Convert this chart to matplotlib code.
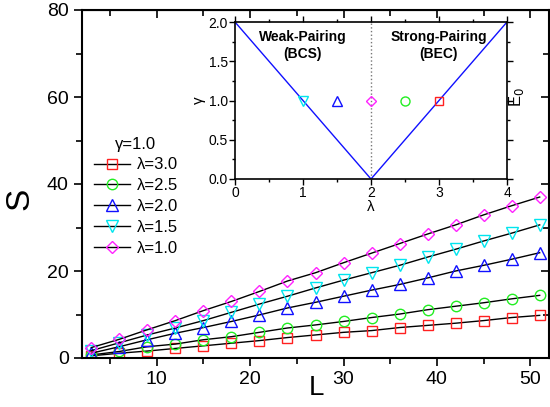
import matplotlib
matplotlib.use("Agg")
import matplotlib.pyplot as plt
from matplotlib.ticker import MultipleLocator

plt.rcParams['font.family'] = ['Liberation Sans', 'DejaVu Sans']

L = [3, 6, 9, 12, 15, 18, 21, 24, 27, 30, 33, 36, 39, 42, 45, 48, 51]
S_lam30 = [0.5, 1.1, 1.6, 2.2, 2.8, 3.4, 4.0, 4.7, 5.3, 5.9, 6.3, 7.0, 7.5, 8.0, 8.6, 9.3, 9.8]
S_lam25 = [0.7, 1.5, 2.6, 3.2, 4.2, 4.9, 5.9, 6.9, 7.6, 8.4, 9.3, 10.1, 11.1, 11.9, 12.7, 13.6, 14.4]
S_lam20 = [1.1, 2.6, 4.2, 5.7, 7.0, 8.4, 9.9, 11.5, 12.8, 14.2, 15.6, 16.9, 18.4, 20.0, 21.3, 22.7, 24.2]
S_lam15 = [1.7, 3.5, 5.3, 6.9, 8.6, 10.5, 12.4, 14.2, 16.1, 17.9, 19.6, 21.3, 23.2, 25.0, 26.9, 28.7, 30.6]
S_lam10 = [2.4, 4.3, 6.5, 8.6, 10.9, 13.0, 15.3, 17.7, 19.6, 21.9, 24.1, 26.3, 28.5, 30.6, 32.9, 35.0, 37.0]

series_labels = ['λ=3.0', 'λ=2.5', 'λ=2.0', 'λ=1.5', 'λ=1.0']
series_data = [S_lam30, S_lam25, S_lam20, S_lam15, S_lam10]
series_colors = ['#ff2020', '#22ee22', '#1010ff', '#00e5ee', '#ff22ff']
series_markers = ['s', 'o', '^', 'v', 'D']

# inset: phase diagram
lam_line = [0, 2, 4]
gam_line = [2, 0, 2]
inset_lam = [1.0, 1.5, 2.0, 2.5, 3.0]
inset_gam = [1.0, 1.0, 1.0, 1.0, 1.0]
inset_colors = ['#00e5ee', '#1010ff', '#ff22ff', '#22ee22', '#ff2020']
inset_markers = ['v', '^', 'D', 'o', 's']

fig = plt.figure(figsize=(5.5, 4.07), dpi=100)
ax = fig.add_axes([82/550, 49/407, 467/550, 348/407])

msizes = {'s': 7, 'o': 7.5, '^': 8, 'v': 8, 'D': 6.5}
for lab, ys, c, m in zip(series_labels, series_data, series_colors, series_markers):
    ax.plot(L, ys, color='black', lw=1.0, marker=m, ms=msizes[m],
            mfc='none', mec=c, mew=1.0, label=lab)

ax.set_xlim(2, 52)
ax.set_ylim(0, 80)
ax.xaxis.set_major_locator(MultipleLocator(10))
ax.xaxis.set_minor_locator(MultipleLocator(5))
ax.yaxis.set_major_locator(MultipleLocator(20))
ax.yaxis.set_minor_locator(MultipleLocator(10))
ax.tick_params(which='both', direction='out', labelsize=14, width=1.2,
               top=False, right=False)
ax.tick_params(which='major', length=6)
ax.tick_params(which='minor', length=4)
for s in ax.spines.values():
    s.set_linewidth(1.5)

# mirrored inward ticks on top/right
secx = ax.secondary_xaxis('top')
secx.xaxis.set_major_locator(MultipleLocator(10))
secx.xaxis.set_minor_locator(MultipleLocator(5))
secx.tick_params(which='both', direction='in', labeltop=False, width=1.2)
secx.tick_params(which='major', length=6)
secx.tick_params(which='minor', length=4)
secy = ax.secondary_yaxis('right')
secy.yaxis.set_major_locator(MultipleLocator(20))
secy.yaxis.set_minor_locator(MultipleLocator(10))
secy.tick_params(which='both', direction='in', labelright=False, width=1.2)
secy.tick_params(which='major', length=6)
secy.tick_params(which='minor', length=4)

ax.set_xlabel('L', fontsize=20)
ax.xaxis.set_label_coords(0.501, -0.05)
ax.set_ylabel('S', fontsize=24)
ax.yaxis.set_label_coords(-0.10, 0.457)

leg = ax.legend(title='γ=1.0', loc='upper left', bbox_to_anchor=(0.0, 0.67),
                frameon=False, fontsize=12, title_fontsize=12,
                handlelength=2.2, labelspacing=0.35, borderpad=0.2,
                handletextpad=0.4)

# inset
axi = fig.add_axes([235/550, (407-179)/407, 272/550, 157/407])
axi.plot(lam_line, gam_line, color='#1010ff', lw=1.0)
axi.axvline(2, color='#777777', lw=1.0, ls=':')
for x, y, c, m in zip(inset_lam, inset_gam, inset_colors, inset_markers):
    axi.plot([x], [y], marker=m, ms=msizes[m] - 1, mfc='none', mec=c, mew=1.0,
             ls='none')
axi.set_xlim(0, 4)
axi.set_ylim(0, 2)
axi.xaxis.set_major_locator(MultipleLocator(1))
axi.xaxis.set_minor_locator(MultipleLocator(0.5))
axi.yaxis.set_major_locator(MultipleLocator(0.5))
axi.yaxis.set_minor_locator(MultipleLocator(0.25))
axi.tick_params(which='both', direction='out', labelsize=10, width=1.0,
                pad=1)
axi.tick_params(which='major', length=4)
axi.tick_params(which='minor', length=2.5)
axi.tick_params(which='both', top=True, right=True, labeltop=False,
                labelright=False)
for s in axi.spines.values():
    s.set_linewidth(1.2)
axi.set_xlabel('λ', fontsize=11, labelpad=0)
axi.set_ylabel('γ', fontsize=11, labelpad=2)
axi.text(1.0, 1.70, 'Weak-Pairing\n(BCS)', ha='center', va='center',
         fontsize=10, fontweight='bold', linespacing=1.2)
axi.text(3.0, 1.70, 'Strong-Pairing\n(BEC)', ha='center', va='center',
         fontsize=10, fontweight='bold', linespacing=1.2)

fig.text(517/550, 1 - 97/407, 'E$_0$', rotation=90, ha='center', va='center',
         fontsize=12)

fig.savefig('out.png', dpi=100)
